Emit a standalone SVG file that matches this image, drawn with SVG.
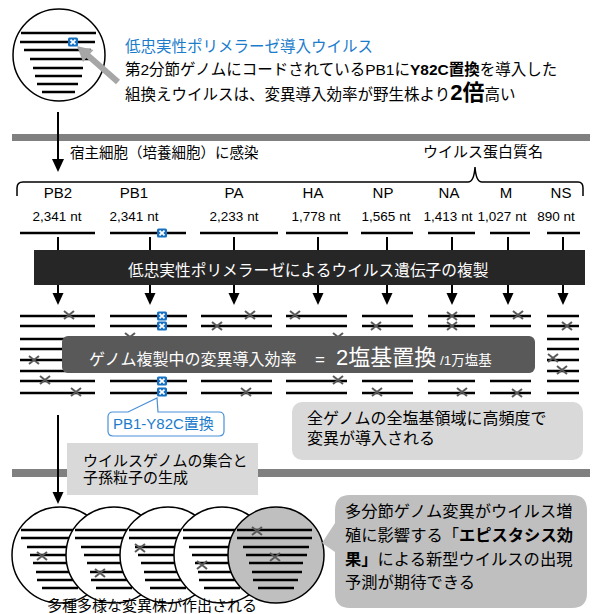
<svg xmlns="http://www.w3.org/2000/svg" width="593" height="614" viewBox="0 0 593 614">
  <style>
    text { font-family: "Liberation Sans", "Noto Sans CJK JP", sans-serif; fill: #000; }
    .seg { stroke: #000; stroke-width: 2.4; fill: none; }
    .mut { stroke: #595959; stroke-width: 2; fill: none; }
    .conn { stroke: #000; stroke-width: 2; fill: none; }
    .bar { fill: #808080; }
    .name { font-size: 15px; text-anchor: middle; }
    .len { font-size: 13.5px; text-anchor: middle; }
  </style>
  <defs>
    <!-- gray mutation mark -->
    <path id="mx" class="mut" d="M-5,-4 L5,4 M-5,4 L5,-4"/>
    <!-- blue PB1-Y82C mark -->
    <g id="bx">
      <rect x="-5" y="-4.5" width="10" height="9" rx="1.5" fill="#1670c2"/>
      <path d="M-2.5,-2.3 L2.5,2.3 M-2.5,2.3 L2.5,-2.3" stroke="#fff" stroke-width="1.8"/>
    </g>
    <!-- genome segments packed in a virion -->
    <path id="cl" class="seg" d="M-39,-25 H36 M-39,-17 H36 M-33,-8 H33 M-30,0 H31 M-27,8 H27 M-24,17 H26 M-23,25 H22 M-18,33 H18"/>
  </defs>

  <!-- low-fidelity polymerase virus -->
  <g id="virus-top">
    <circle cx="59" cy="55" r="46" fill="#fff" stroke="#000" stroke-width="1.5"/>
    <path class="seg" d="M21,33 H96 M20,42 H95 M24,50 H91 M30,59 H90 M33,68 H83 M35,76 H82 M37,84 H78 M42,92 H75"/>
    <use href="#bx" x="73" y="42"/>
    <polygon points="77,46 93.5,49.9 90.2,53.6 120,79.8 116,84.3 86.3,58.1 83,61.9" fill="#a6a6a6"/>
  </g>

  <g id="virus-desc">
    <text x="125" y="52" font-size="15.5" style="fill:#1b7ccc">低忠実性ポリメラーゼ導入ウイルス</text>
    <text x="125" y="75" font-size="15.5">第2分節ゲノムにコードされているPB1に<tspan font-weight="bold">Y82C置換</tspan>を導入した</text>
    <text x="125" y="100" font-size="15.5">組換えウイルスは、変異導入効率が野生株より<tspan font-weight="bold" font-size="22">2倍</tspan>高い</text>
  </g>

  <!-- stage separators -->
  <rect class="bar" x="12" y="134" width="578" height="7"/>
  <rect class="bar" x="12" y="469" width="578" height="8"/>

  <g id="infection-label">
    <text x="70" y="158" font-size="14.5">宿主細胞（培養細胞）に感染</text>
  </g>

  <g id="protein-names">
    <text x="423" y="157" font-size="15">ウイルス蛋白質名</text>
    <path d="M17,196 V188 Q17,182 23,182 H468 Q474,182 475,167 Q476,182 482,182 H578 Q583,182 583,188 V196" fill="none" stroke="#000" stroke-width="1.5"/>
    <text class="name" x="58" y="198">PB2</text>
    <text class="name" x="134" y="198">PB1</text>
    <text class="name" x="234" y="198">PA</text>
    <text class="name" x="313" y="198">HA</text>
    <text class="name" x="383" y="198">NP</text>
    <text class="name" x="449" y="198">NA</text>
    <text class="name" x="506" y="198">M</text>
    <text class="name" x="561" y="198">NS</text>
    <text class="len" x="57" y="221">2,341 nt</text>
    <text class="len" x="134" y="221">2,341 nt</text>
    <text class="len" x="234" y="221">2,233 nt</text>
    <text class="len" x="316" y="221">1,778 nt</text>
    <text class="len" x="386" y="221">1,565 nt</text>
    <text class="len" x="448" y="221">1,413 nt</text>
    <text class="len" x="502" y="221">1,027 nt</text>
    <text class="len" x="556" y="221">890 nt</text>
  </g>

  <!-- parental genome segments -->
  <g id="parental-genome">
    <path class="seg" d="M20,233 H95 M110,233 H186 M200,233 H278 M286,233 H348 M361,233 H413 M428,233 H475 M490,233 H530 M547,233 H580"/>
    <use href="#bx" x="162" y="233"/>
  </g>

  <g id="connectors">
    <path class="conn" d="M58,112 V160"/>
    <polygon points="52,159 64,159 58,172"/>
    <path class="conn" d="M58,237 V295 M150,237 V295 M234,237 V295 M318,237 V295 M387,237 V295 M452,237 V295 M508,237 V295 M563,237 V295"/>
    <g fill="#000">
      <polygon points="52.5,293 63.5,293 58,305"/>
      <polygon points="144.5,293 155.5,293 150,305"/>
      <polygon points="228.5,293 239.5,293 234,305"/>
      <polygon points="312.5,293 323.5,293 318,305"/>
      <polygon points="381.5,293 392.5,293 387,305"/>
      <polygon points="446.5,293 457.5,293 452,305"/>
      <polygon points="502.5,293 513.5,293 508,305"/>
      <polygon points="557.5,293 568.5,293 563,305"/>
    </g>
    <path class="conn" d="M58,415 V494"/>
    <polygon points="52.5,492 63.5,492 58,504"/>
  </g>

  <g id="replication">
    <rect x="34" y="250" width="551" height="35" fill="#262626"/>
    <text x="128" y="276" font-size="15.7" style="fill:#fff">低忠実性ポリメラーゼによるウイルス遺伝子の複製</text>
  </g>

  <!-- replicated genomes with mutations -->
  <g id="progeny-genomes">
    <path class="seg" d="M20,316 H95 M20,326 H95 M20,339 H95 M20,349 H95 M20,360 H95 M20,371 H95 M20,381 H95 M20,393 H95"/>
    <path class="seg" d="M110,316 H187 M110,326 H187 M110,339 H187 M110,349 H187 M110,360 H187 M110,371 H187 M110,381 H187 M110,393 H187"/>
    <path class="seg" d="M201,316 H272 M201,326 H272 M201,339 H272 M201,349 H272 M201,360 H272 M201,371 H272 M201,381 H272 M201,393 H272"/>
    <path class="seg" d="M286,316 H347 M286,326 H347 M286,339 H347 M286,349 H347 M286,360 H347 M286,371 H347 M286,381 H347 M286,393 H347"/>
    <path class="seg" d="M362,316 H413 M362,326 H413 M362,339 H413 M362,349 H413 M362,360 H413 M362,371 H413 M362,381 H413 M362,393 H413"/>
    <path class="seg" d="M428,316 H475 M428,326 H475 M428,339 H475 M428,349 H475 M428,360 H475 M428,371 H475 M428,381 H475 M428,393 H475"/>
    <path class="seg" d="M490,316 H531 M490,326 H531 M490,339 H531 M490,349 H531 M490,360 H531 M490,371 H531 M490,381 H531 M490,393 H531"/>
    <path class="seg" d="M547,316 H579 M547,326 H579 M547,339 H579 M547,349 H579 M547,360 H579 M547,371 H579 M547,381 H579 M547,393 H579"/>
    <use href="#mx" x="69" y="315"/>
    <use href="#mx" x="250" y="315"/>
    <use href="#mx" x="295" y="315"/>
    <use href="#mx" x="452" y="316"/>
    <use href="#mx" x="518" y="315"/>
    <use href="#mx" x="217" y="326"/>
    <use href="#mx" x="376" y="326"/>
    <use href="#mx" x="452" y="326"/>
    <use href="#mx" x="567" y="326"/>
    <use href="#mx" x="130" y="337"/>
    <use href="#mx" x="338" y="337"/>
    <use href="#mx" x="34" y="360"/>
    <use href="#mx" x="553" y="358"/>
    <use href="#mx" x="562" y="370"/>
    <use href="#mx" x="45" y="380"/>
    <use href="#mx" x="338" y="380"/>
    <use href="#mx" x="76" y="392"/>
    <use href="#mx" x="246" y="392"/>
    <use href="#mx" x="377" y="392"/>
    <use href="#mx" x="462" y="392"/>
    <use href="#mx" x="517" y="393"/>
    <use href="#bx" x="162" y="316"/>
    <use href="#bx" x="162" y="326"/>
    <use href="#bx" x="162" y="381"/>
    <use href="#bx" x="162" y="392"/>
  </g>

  <g id="mutation-rate">
    <rect x="62" y="336" width="473" height="37" rx="6" fill="#595959"/>
    <text y="365" style="fill:#fff"><tspan x="89" font-size="16">ゲノム複製中の変異導入効率</tspan><tspan x="315" font-size="17">=</tspan><tspan x="336" font-size="22">2塩基置換</tspan><tspan x="440" font-size="13.5">/1万塩基</tspan></text>
  </g>

  <g id="pb1-callout">
    <path d="M113,412 H128 L157,398 L158,412 H219 Q224,412 224,417 V431 Q224,436 219,436 H113 Q108,436 108,431 V417 Q108,412 113,412 Z" fill="#fff" stroke="#4a90d9" stroke-width="1.2"/>
    <text x="113" y="429" font-size="15" style="fill:#1b7ccc">PB1-Y82C置換</text>
  </g>

  <g id="genome-wide-note">
    <rect x="292" y="402" width="291" height="58" rx="10" fill="#d9d9d9"/>
    <text x="307" y="424" font-size="16">全ゲノムの全塩基領域に高頻度で</text>
    <text x="307" y="444" font-size="16">変異が導入される</text>
  </g>

  <g id="assembly-note">
    <rect x="67" y="443" width="191" height="52" fill="#d9d9d9"/>
    <text x="83" y="466" font-size="15">ウイルスゲノムの集合と</text>
    <text x="83" y="483" font-size="15">子孫粒子の生成</text>
  </g>

  <!-- diverse progeny virions -->
  <g id="progeny-virions">
    <g transform="translate(60,555)">
      <circle r="48" fill="#fff" stroke="#000" stroke-width="1.5"/>
      <use href="#cl"/>
      <use href="#mx" x="-18" y="1"/>
    </g>
    <g transform="translate(114,555)">
      <circle r="48" fill="#fff" stroke="#000" stroke-width="1.5"/>
      <use href="#cl"/>
      <use href="#mx" x="-14" y="18"/>
    </g>
    <g transform="translate(168,555)">
      <circle r="48" fill="#fff" stroke="#000" stroke-width="1.5"/>
      <use href="#cl"/>
      <use href="#mx" x="-28" y="-7"/>
    </g>
    <g transform="translate(222,555)">
      <circle r="48" fill="#fff" stroke="#000" stroke-width="1.5"/>
      <use href="#cl"/>
      <use href="#mx" x="-20" y="10"/>
    </g>
    <g transform="translate(276,555)">
      <circle r="48" fill="#bfbfbf" stroke="#000" stroke-width="1.5"/>
      <use href="#cl"/>
      <use href="#mx" x="-19" y="-24"/>
      <use href="#mx" x="-1" y="2"/>
    </g>
    <text x="47" y="611" font-size="15">多種多様な変異株が作出される</text>
  </g>

  <g id="epistasis-note">
    <path d="M350,495 H572 Q587,495 587,510 V593 Q587,608 572,608 H350 Q335,608 335,593 V552 L322,543 L335,523 V510 Q335,495 350,495 Z" fill="#bfbfbf"/>
    <text x="345" y="517" font-size="16.3">多分節ゲノム変異がウイルス増</text>
    <text x="345" y="541" font-size="16.3">殖に影響する「<tspan font-weight="bold">エピスタシス効</tspan></text>
    <text x="345" y="565" font-size="16.3"><tspan font-weight="bold">果」</tspan>による新型ウイルスの出現</text>
    <text x="345" y="588" font-size="16.3">予測が期待できる</text>
  </g>
</svg>
